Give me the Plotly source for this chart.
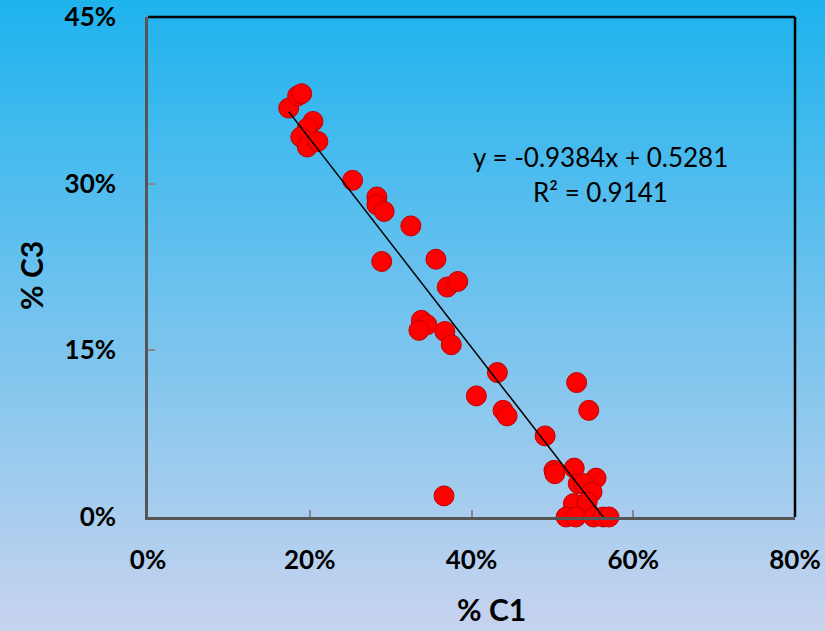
import plotly.graph_objects as go

# % C1 and % C3 composition pairs (fractions)
c1 = [0.174, 0.185, 0.190, 0.204, 0.197, 0.189, 0.197, 0.210, 0.253, 0.283,
      0.283, 0.292, 0.325, 0.289, 0.356, 0.370, 0.383, 0.338, 0.345, 0.335,
      0.367, 0.375, 0.432, 0.406, 0.439, 0.444, 0.491, 0.530, 0.545, 0.502,
      0.503, 0.527, 0.554, 0.532, 0.539, 0.549, 0.526, 0.543, 0.517, 0.529,
      0.551, 0.563, 0.570, 0.366]
c3 = [0.368, 0.379, 0.381, 0.356, 0.350, 0.342, 0.333, 0.338, 0.303, 0.288,
      0.281, 0.275, 0.262, 0.230, 0.232, 0.207, 0.212, 0.177, 0.173, 0.168,
      0.167, 0.155, 0.130, 0.109, 0.096, 0.091, 0.073, 0.121, 0.096, 0.042,
      0.039, 0.044, 0.035, 0.030, 0.030, 0.0225, 0.012, 0.0135, 0.0, 0.0,
      0.0, 0.0, 0.0, 0.019]

# Linear trend fit
slope = -0.9384
intercept = 0.5281
r_squared = 0.9141

x_ticks = [0, 0.2, 0.4, 0.6, 0.8]
y_ticks = [0, 0.15, 0.30, 0.45]

W, H = 825, 631
L, R, T, B = 148, 30, 17, 114
plot_w = W - L - R
plot_h = H - T - B

fig = go.Figure()

fig.add_trace(go.Scatter(
    x=c1, y=c3, mode="markers",
    marker=dict(size=20, color="#FF0000", line=dict(color="#C00000", width=1)),
    cliponaxis=False, showlegend=False, hoverinfo="x+y",
))

x_start, x_end = min(c1), max(c1)
fig.add_trace(go.Scatter(
    x=[x_start, x_end],
    y=[slope * x_start + intercept, slope * x_end + intercept],
    mode="lines", line=dict(color="black", width=1.5),
    showlegend=False, hoverinfo="skip",
))

# vertical background gradient built from thin horizontal bands
top_rgb = (30, 179, 238)
bot_rgb = (200, 211, 238)
n_bands = 160
shapes = []
for i in range(n_bands):
    t = (i + 0.5) / n_bands
    col = tuple(round(a + (b - a) * t) for a, b in zip(top_rgb, bot_rgb))
    py0 = H * i / n_bands
    py1 = H * (i + 1) / n_bands + 1
    y0 = (H - B - py0) / plot_h
    y1 = (H - B - py1) / plot_h
    if i == 0:
        y0 = 3
    if i == n_bands - 1:
        y1 = -3
    shapes.append(dict(
        type="rect", xref="paper", yref="paper", layer="below",
        x0=-2, x1=3, y0=y0, y1=y1,
        fillcolor="rgb(%d,%d,%d)" % col, line=dict(width=0),
    ))

# black frame on the top and right edges
shapes.append(dict(type="line", xref="paper", yref="paper", x0=0, x1=1, y0=1, y1=1,
                   line=dict(color="black", width=2.5)))
shapes.append(dict(type="line", xref="paper", yref="paper", x0=1, x1=1, y0=0, y1=1,
                   line=dict(color="black", width=2.5)))

font_fam = "Lato, 'Open Sans', sans-serif"
axis_common = dict(
    showgrid=False, zeroline=False, showline=True, linecolor="#555555", linewidth=2.5,
    ticks="inside", ticklen=7, tickcolor="#888888", tickwidth=2, automargin=False,
    tickformat=".0%", tickfont=dict(family=font_fam, size=26, color="black", weight="bold"),
)

fig.update_layout(
    width=W, height=H,
    margin=dict(l=L, r=R, t=T, b=B, autoexpand=False),
    paper_bgcolor="rgba(0,0,0,0)", plot_bgcolor="rgba(0,0,0,0)",
    shapes=shapes,
    xaxis=dict(range=[0, 0.8], tickvals=x_ticks, ticklabelstandoff=18, **axis_common),
    yaxis=dict(range=[0, 0.45], tickvals=y_ticks, ticklabelstandoff=24, **axis_common),
    annotations=[
        dict(text="y = %.4fx + %.4f" % (slope, intercept), xref="paper", yref="paper",
             x=(600 - L) / plot_w, y=(H - B - 157) / plot_h, showarrow=False,
             xanchor="center", yanchor="middle",
             font=dict(family=font_fam, size=26, color="black")),
        dict(text="R² = %.4f" % r_squared, xref="paper", yref="paper",
             x=(600 - L) / plot_w, y=(H - B - 192) / plot_h, showarrow=False,
             xanchor="center", yanchor="middle",
             font=dict(family=font_fam, size=26, color="black")),
        dict(text="% C1", xref="paper", yref="paper",
             x=(491 - L) / plot_w, y=(H - B - 609) / plot_h, showarrow=False,
             xanchor="center", yanchor="middle",
             font=dict(family=font_fam, size=30, color="black", weight="bold")),
        dict(text="% C3", xref="paper", yref="paper", textangle=-90,
             x=(31 - L) / plot_w, y=(H - B - 276) / plot_h, showarrow=False,
             xanchor="center", yanchor="middle",
             font=dict(family=font_fam, size=30, color="black", weight="bold")),
    ],
)

fig.write_html("out.html")
